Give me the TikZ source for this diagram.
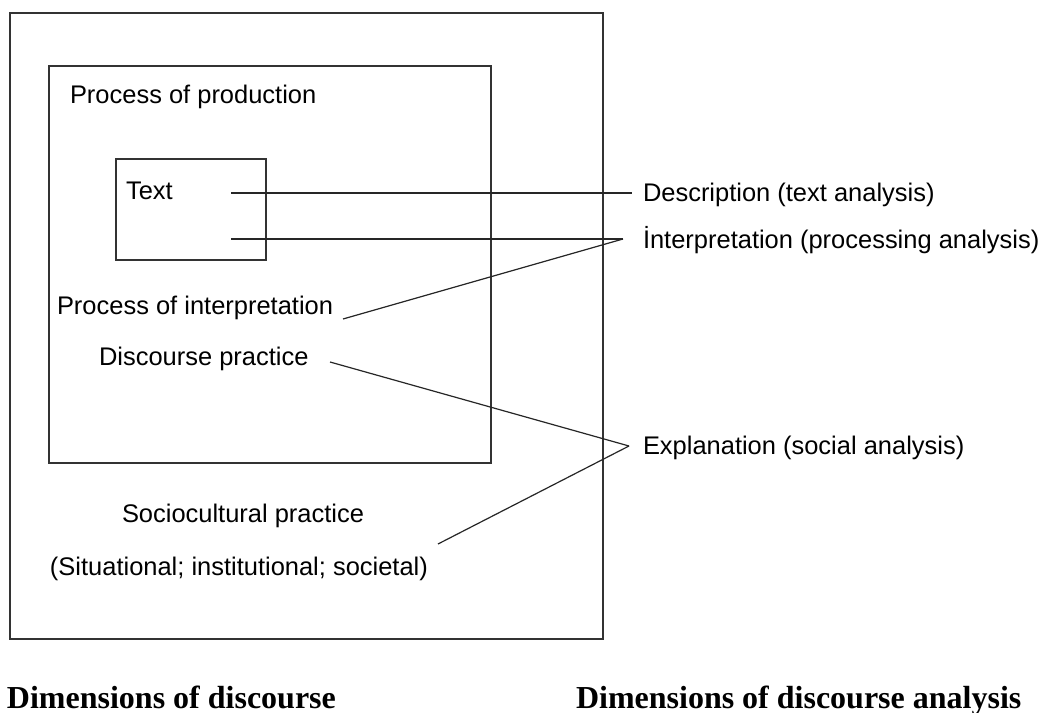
\documentclass[tikz,border=0pt]{standalone}
\usepackage{fontspec}
\setmainfont{Liberation Sans}
\newfontfamily\capfont{Liberation Serif}
\begin{document}
\begin{tikzpicture}[x=0.75pt,y=-0.75pt,
  box/.style={draw=black!80, line width=1.5pt, inner sep=0, outer sep=0, anchor=north west},
  lbl/.style={anchor=base west, inner sep=0, outer sep=0, font=\fontsize{19.1}{23}\selectfont},
  capt/.style={anchor=base west, inner sep=0, outer sep=0, font=\capfont\bfseries\fontsize{24}{28}\selectfont},
  conn/.style={draw=black!85, line width=0.9pt}]
\useasboundingbox[fill=white] (0,0) rectangle (1047,713);
% boxes
\node[box, minimum width=444.75pt, minimum height=469.5pt] (outer) at (10,13) {};
\node[box, minimum width=331.5pt, minimum height=297.75pt] (middle) at (49,66) {};
\node[box, minimum width=112.5pt, minimum height=75.75pt] (inner) at (116,159) {};
% left texts
\node[lbl] (prod) at (70,104) {Process of production};
\node[lbl] (text) at (126,200) {Text};
\node[lbl] (interp) at (57,315) {Process of interpretation};
\node[lbl] (disc) at (99,365) {Discourse practice};
\node[lbl] (socio) at (122,522) {Sociocultural practice};
\node[lbl] (situ) at (50,575) {(Situational; institutional; societal)};
% right texts
\node[lbl] (descr) at (643,202) {Description (text analysis)};
\node[lbl] (interpa) at (643,248) {İnterpretation (processing analysis)};
\node[lbl] (expl) at (643,454) {Explanation (social analysis)};
% captions
\node[capt] (capL) at (7,708) {Dimensions of discourse};
\node[capt] (capR) at (576,708) {Dimensions of discourse analysis};
% connector end points
\coordinate (a1) at (231,193);
\coordinate (b1) at (632,193);
\coordinate (a2) at (231,239);
\coordinate (b2) at (623,239);
\coordinate (a3) at (343,319);
\coordinate (a4) at (330,362);
\coordinate (b4) at (629,446);
\coordinate (a5) at (438,544);
% connectors
\draw[conn] (a1) -- (b1);
\draw[conn] (a2) -- (b2);
\draw[conn] (a3) -- (b2);
\draw[conn] (a4) -- (b4);
\draw[conn] (a5) -- (b4);
\end{tikzpicture}
\end{document}
